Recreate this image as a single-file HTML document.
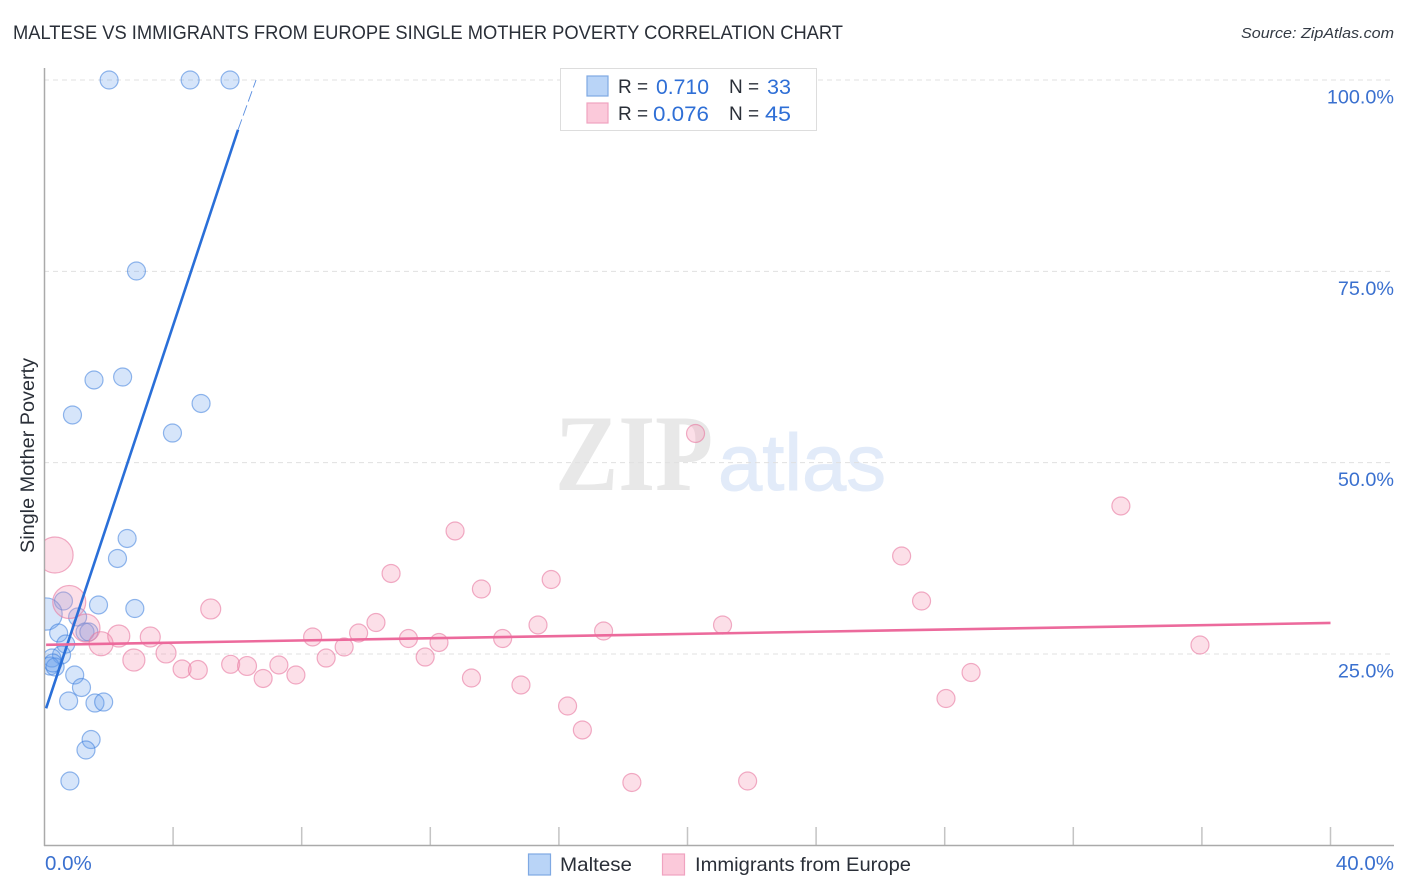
<!DOCTYPE html>
<html>
<head>
<meta charset="utf-8">
<style>
html,body{margin:0;padding:0;background:#fff;}
svg{display:block;font-family:"Liberation Sans",sans-serif;}
</style>
</head>
<body>
<svg id="chart" width="1406" height="892" viewBox="0 0 1406 892" xmlns="http://www.w3.org/2000/svg">
  <defs>
    <clipPath id="plot-clip"><rect x="45" y="60" width="1350" height="785"/></clipPath>
  </defs>
  <rect x="0" y="0" width="1406" height="892" fill="#ffffff"/>
  <text x="13" y="39" font-size="19" fill="#2a2f38" textLength="830" lengthAdjust="spacingAndGlyphs">MALTESE VS IMMIGRANTS FROM EUROPE SINGLE MOTHER POVERTY CORRELATION CHART</text>
  <text x="1241" y="38" font-size="15" font-style="italic" fill="#333a44" textLength="153" lengthAdjust="spacingAndGlyphs">Source: ZipAtlas.com</text>
  <g>
    <text x="555" y="490" font-family="'Liberation Serif',serif" font-size="109" font-weight="bold" fill="#e8e8e8" textLength="158" lengthAdjust="spacingAndGlyphs">ZIP</text>
    <text x="718" y="490" font-size="80" fill="#e2ebf9" stroke="#e2ebf9" stroke-width="1" textLength="168" lengthAdjust="spacingAndGlyphs">atlas</text>
  </g>
  <g id="grid"></g>
  <g id="axes"></g>
  <g id="marks" clip-path="url(#plot-clip)"></g>
  <g id="trends"></g>
  <g id="tick-labels"></g>
  <text transform="translate(34,553) rotate(-90)" font-size="19" fill="#2a2f38" textLength="195" lengthAdjust="spacingAndGlyphs">Single Mother Poverty</text>

  <g>
    <rect x="560.5" y="68.5" width="256" height="62" fill="#ffffff" stroke="#dddddd" stroke-width="1"/>
    <rect x="587" y="76" width="21" height="20" fill="#b9d4f7" stroke="#7fa9e3" stroke-width="1.2"/>
    <rect x="587" y="103" width="21" height="20" fill="#fbc9da" stroke="#f0a3c0" stroke-width="1.2"/>
    <text x="618" y="93" font-size="19" fill="#2a2f38">R =</text>
    <text x="656" y="94" font-size="21.5" fill="#2f6fd6" textLength="53" lengthAdjust="spacingAndGlyphs">0.710</text>
    <text x="729" y="93" font-size="19" fill="#2a2f38">N =</text>
    <text x="767" y="94" font-size="21.5" fill="#2f6fd6" textLength="24" lengthAdjust="spacingAndGlyphs">33</text>
    <text x="618" y="120" font-size="19" fill="#2a2f38">R =</text>
    <text x="653" y="121" font-size="21.5" fill="#2f6fd6" textLength="56" lengthAdjust="spacingAndGlyphs">0.076</text>
    <text x="729" y="120" font-size="19" fill="#2a2f38">N =</text>
    <text x="765" y="121" font-size="21.5" fill="#2f6fd6" textLength="26" lengthAdjust="spacingAndGlyphs">45</text>
  </g>

  <g>
    <rect x="528.5" y="854" width="22" height="21" fill="#b9d4f7" stroke="#7fa9e3" stroke-width="1.2"/>
    <text x="560" y="871" font-size="19.5" fill="#2a2f38" textLength="72" lengthAdjust="spacingAndGlyphs">Maltese</text>
    <rect x="662.5" y="854" width="22" height="21" fill="#fbc9da" stroke="#f0a3c0" stroke-width="1.2"/>
    <text x="695" y="871" font-size="19.5" fill="#2a2f38" textLength="216" lengthAdjust="spacingAndGlyphs">Immigrants from Europe</text>
  </g>
</svg>
<script>
const yTickValues = [25, 50, 75, 100];
const yTickLabels = ["25.0%", "50.0%", "75.0%", "100.0%"];
const xTickValues = [4, 8, 12, 16, 20, 24, 28, 32, 36, 40];
const xEdgeValues = [0, 40];
const xEdgeLabels = ["0.0%", "40.0%"];

const malteseX = [2.01,4.53,5.77,2.86,2.43,1.54,4.87,0.87,3.98,2.57,2.27,2.81,1.68,0.59,1.03,0.05,0.44,1.26,1.38,0.66,0.53,0.23,0.17,0.33,0.26,0.94,1.15,0.75,1.57,1.84,1.45,1.29,0.79];
const malteseY = [100,100,100,75.04,61.19,60.80,57.73,56.23,53.87,40.09,37.48,30.94,31.40,31.92,29.83,30.22,27.74,27.87,27.87,26.30,24.87,24.47,23.43,23.30,23.82,22.25,20.62,18.86,18.59,18.72,13.82,12.45,8.40];
const malteseWeight = [1,1,1,1,1,1,1,1,1,1,1,1,1,1,1,3.2,1,1,1,1,1,1,1,1,1,1,1,1,1,1,1,1,1];

const immigrantsX = [0.33,0.77,1.29,1.76,2.31,2.78,3.29,3.78,4.28,4.77,5.17,5.79,6.30,6.80,7.29,7.82,8.34,8.76,9.32,9.77,10.31,10.78,11.32,11.84,12.27,12.77,13.28,13.59,14.25,14.82,15.35,15.76,16.27,16.73,17.39,18.27,20.25,21.09,21.87,26.66,27.28,28.04,28.82,33.48,35.94];
const immigrantsY = [37.93,31.79,28.39,26.34,27.35,24.21,27.22,25.13,23.04,22.91,30.88,23.65,23.43,21.80,23.56,22.25,27.22,24.47,25.91,27.74,29.11,35.52,27.02,24.60,26.50,41.07,21.86,33.49,27.02,20.95,28.79,34.73,18.20,15.07,28.00,8.21,53.81,28.79,8.40,37.80,31.92,19.18,22.58,44.34,26.17];
const immigrantsWeight = [4,3.36,2.42,1.78,1.5,1.5,1.23,1.23,1,1.1,1.23,1,1.1,1,1,1,1,1,1,1,1,1,1,1,1,1,1,1,1,1,1,1,1,1,1,1,1,1,1,1,1,1,1,1,1];

const malteseTrendX = [0.05, 6.02];
const malteseTrendY = [17.9, 93.5];
const malteseDashX = [6.02, 6.58];
const malteseDashY = [93.5, 100];
const immigrantsTrendX = [0.05, 40];
const immigrantsTrendY = [26.2, 29.05];

const SVG_NS = "http://www.w3.org/2000/svg";
const xScale = v => 44.5 + v * 32.15;
const yScale = v => 845.3 - v * 7.653;
const rScale = w => 9 * Math.sqrt(w);

function make(parent, tag, attrs) {
  const el = document.createElementNS(SVG_NS, tag);
  for (const k in attrs) el.setAttribute(k, attrs[k]);
  parent.appendChild(el);
  return el;
}

const gridG = document.getElementById("grid");
const axesG = document.getElementById("axes");
const marksG = document.getElementById("marks");
const trendsG = document.getElementById("trends");
const labelsG = document.getElementById("tick-labels");

yTickValues.forEach((v, i) => {
  const line = make(gridG, "line", {x1: 44, x2: 1394, y1: yScale(v), y2: yScale(v), stroke: "#e0e0e0", "stroke-width": 1, "stroke-dasharray": "5 4"});
  
  
  const label = make(labelsG, "text", {x: 1394, y: yScale(v) + 23.5, "font-size": 19.8, fill: "#3a70cf", "text-anchor": "end"});
  label.textContent = yTickLabels[i];
  
  
});

xTickValues.forEach(v => {
  const tick = make(axesG, "line", {x1: xScale(v), x2: xScale(v), y1: 827, y2: 845, stroke: "#c4c4c4", "stroke-width": 1.5});
  
  
});

const yAxis = make(axesG, "line", {x1: 44.5, x2: 44.5, y1: 68, y2: 846, stroke: "#aaaaaa", "stroke-width": 1.5});


const xAxis = make(axesG, "line", {x1: 44, x2: 1394, y1: 845.5, y2: 845.5, stroke: "#aaaaaa", "stroke-width": 1.5});



xEdgeValues.forEach((v, i) => {
  const label = make(labelsG, "text", {x: i === 0 ? xScale(v) + 0.5 : 1394, y: 870, "font-size": 20.5, fill: "#3a70cf", "text-anchor": i === 0 ? "start" : "end"});
  label.textContent = xEdgeLabels[i];
  
  
});

malteseX.forEach((v, i) => {
  const dot = make(marksG, "circle", {cx: xScale(v), cy: yScale(malteseY[i]), r: rScale(malteseWeight[i]), fill: "rgba(105,160,238,0.27)", stroke: "rgba(60,125,220,0.55)", "stroke-width": 1.2});
  
  
});

immigrantsX.forEach((v, i) => {
  const dot = make(marksG, "circle", {cx: xScale(v), cy: yScale(immigrantsY[i]), r: rScale(immigrantsWeight[i]), fill: "rgba(245,150,180,0.3)", stroke: "rgba(232,120,160,0.6)", "stroke-width": 1.2});
  
  
});

const maltesePath = make(trendsG, "line", {x1: xScale(malteseTrendX[0]), y1: yScale(malteseTrendY[0]), x2: xScale(malteseTrendX[1]), y2: yScale(malteseTrendY[1]), stroke: "#2a6fd8", "stroke-width": 2.6});


const malteseDash = make(trendsG, "line", {x1: xScale(malteseDashX[0]), y1: yScale(malteseDashY[0]), x2: xScale(malteseDashX[1]), y2: yScale(malteseDashY[1]), stroke: "#5b8fe0", "stroke-width": 0.9, "stroke-dasharray": "11 4"});


const immigrantsPath = make(trendsG, "line", {x1: xScale(immigrantsTrendX[0]), y1: yScale(immigrantsTrendY[0]), x2: xScale(immigrantsTrendX[1]), y2: yScale(immigrantsTrendY[1]), stroke: "#ec6a9c", "stroke-width": 2.6});


</script>
</body>
</html>
